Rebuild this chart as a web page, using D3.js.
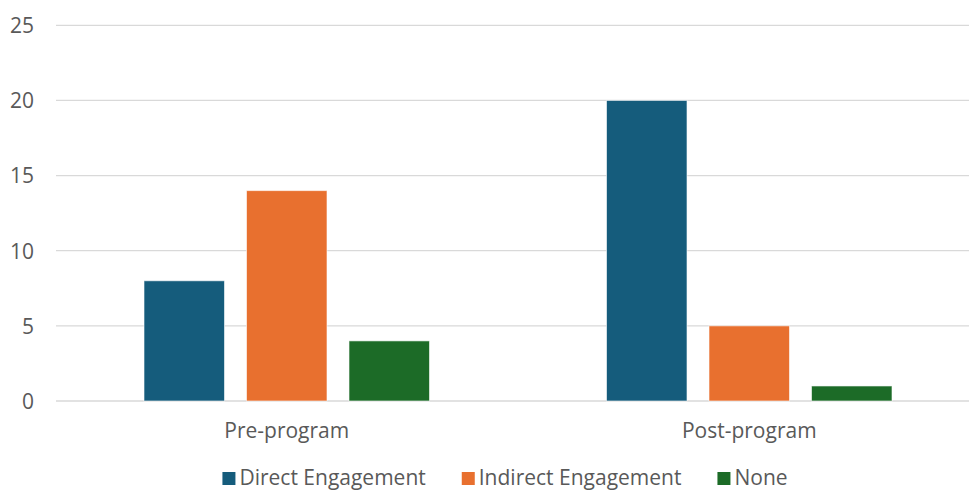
<!DOCTYPE html>
<html>
<head>
<meta charset="utf-8">
<script src="https://cdn.jsdelivr.net/npm/d3@7"></script>
<style>
  html, body { margin: 0; padding: 0; background: #fff; }
  svg { display: block; }
  text { font-family: "Open Sans", sans-serif; fill: #595959; }
</style>
</head>
<body>
<svg id="chart" width="969" height="491"></svg>
<script>
const categories = ["Pre-program", "Post-program"];
const seriesNames = ["Direct Engagement", "Indirect Engagement", "None"];
const directValues = [8, 20];
const indirectValues = [14, 5];
const noneValues = [4, 1];
const yTicks = [0, 5, 10, 15, 20, 25];
const colors = ["#155c7c", "#e8702f", "#1c6b27"];

const seriesValues = [directValues, indirectValues, noneValues];
const data = categories.map((c, i) => ({
  category: c,
  values: seriesNames.map((s, j) => ({ series: s, value: seriesValues[j][i], color: colors[j] }))
}));

const svg = d3.select("#chart");
const fontSize = 21;

const y = d3.scaleLinear().domain([0, 25]).range([401, 25.3]);
const x0 = d3.scaleBand().domain(categories).range([55.5, 980.5])
  .paddingInner(0.3827).paddingOuter(0.3827 / 2);
const x1 = d3.scaleBand().domain(seriesNames).range([0, x0.bandwidth()])
  .paddingInner(0.2146).paddingOuter(0);

// gridlines
const yAxis = d3.axisLeft(y).tickValues(yTicks).tickSize(0).tickPadding(0).tickFormat(d3.format("d"));
const gy = svg.append("g").attr("transform", "translate(56,0)");
gy.selectAll("line.grid").data(yTicks).enter().append("line")
  .attr("class", "grid")
  .attr("x1", 0).attr("x2", 969 - 56)
  .attr("y1", d => y(d)).attr("y2", d => y(d))
  .attr("stroke", "#d9d9d9").attr("stroke-width", 1.3);

const axisG = svg.append("g").attr("transform", "translate(34,0)").call(yAxis);
axisG.select(".domain").remove();
axisG.selectAll("text")
  .attr("font-size", fontSize)
  .attr("font-family", "Open Sans, sans-serif")
  .attr("fill", "#595959")
  .attr("text-anchor", "end")
  .attr("dy", "0.35em");

// bars
const groups = svg.append("g").selectAll("g.cat").data(data).enter().append("g")
  .attr("class", "cat")
  .attr("transform", d => `translate(${x0(d.category)},0)`);
groups.selectAll("rect").data(d => d.values).enter().append("rect")
  .attr("x", d => x1(d.series))
  .attr("width", x1.bandwidth())
  .attr("y", d => y(d.value))
  .attr("height", d => y(0) - y(d.value))
  .attr("fill", d => d.color)
  .attr("stroke", "rgba(255,255,255,0.6)")
  .attr("stroke-width", 1);

// category axis labels
const xAxis = d3.axisBottom(x0).tickSize(0).tickPadding(0);
const xg = svg.append("g").attr("transform", "translate(0,438)").call(xAxis);
xg.select(".domain").remove();
xg.selectAll("text")
  .attr("font-size", fontSize)
  .attr("font-family", "Open Sans, sans-serif")
  .attr("fill", "#595959")
  .attr("dy", 0).attr("y", 0);

// legend
const legend = svg.append("g");
const items = legend.selectAll("g.item").data(seriesNames).enter().append("g").attr("class", "item");
items.append("rect").attr("width", 13).attr("height", 13).attr("y", -13)
  .attr("fill", (d, i) => colors[i]);
items.append("text").attr("x", 17).attr("y", 0).attr("font-size", fontSize)
  .attr("fill", "#595959").text(d => d);
let xpos = 0;
const positions = [];
items.each(function () {
  const w = d3.select(this).select("text").node().getComputedTextLength();
  positions.push(xpos);
  xpos += 17 + w + 36;
});
const totalW = xpos - 36;
const startX = 505 - totalW / 2;
items.attr("transform", (d, i) => `translate(${startX + positions[i]},485)`);
</script>
</body>
</html>
